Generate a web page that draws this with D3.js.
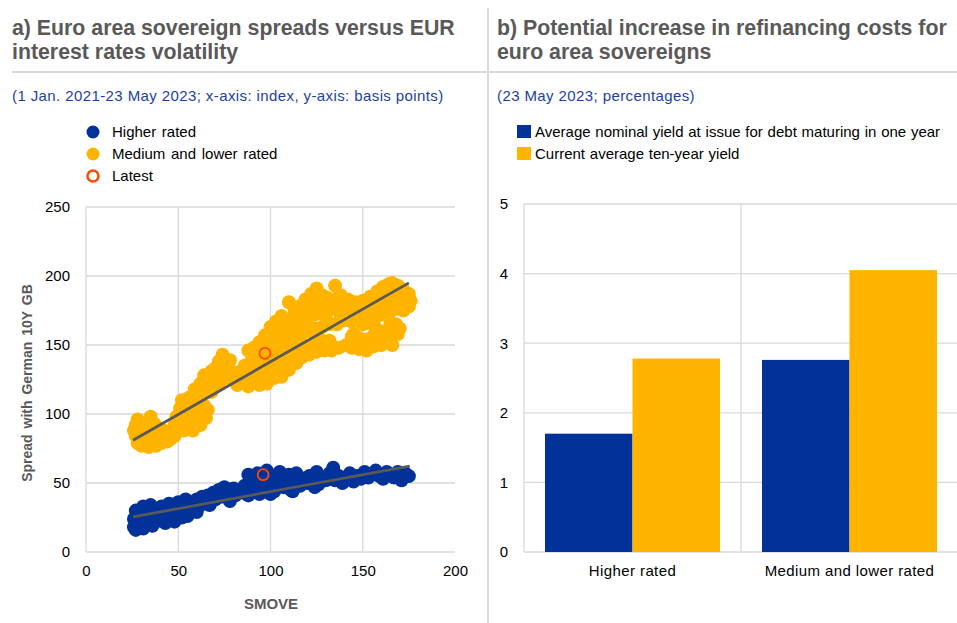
<title>Euro area sovereigns</title>
<script src="https://d3js.org/d3.v7.min.js"></script>
<style>
  body { margin: 0; background: #fff; font-family: "Liberation Sans", Arial, sans-serif; }
  svg text { font-family: "Liberation Sans", Arial, sans-serif; }
</style>
<body>
<script>
// ---- data ----
// panel a: [SMOVE index, spread in bp]
var higherRated = [
  [26,18],[26,24],[27,30],[28,21],[29,27],[30,19],[31,33],[32,24],[33,29],[34,20],[35,34],[36,26],
  [37,31],[38,22],[40,28],[41,33],[42,24],[44,30],[45,35],[46,27],[48,22],[48,32],[50,36],[51,28],
  [53,33],[54,38],[55,26],[57,34],[58,30],[60,38],[61,33],[63,40],[64,35],[66,41],[67,34],[69,43],
  [70,38],[72,45],[73,40],[75,47],[76,42],[78,44],[80,46],[81,41],[83,45],[85,43],[86,48],[88,56],
  [90,52],[91,45],[93,57],[94,42],[95,50],[97,53],[98,59],[99,46],[101,55],[102,44],[104,50],[105,58],
  [107,47],[108,53],[110,56],[111,45],[113,51],[114,57],[116,48],[118,53],[120,50],[121,55],[123,52],
  [125,58],[126,49],[128,54],[130,52],[132,57],[134,61],[135,52],[137,55],[139,50],[141,54],[143,57],
  [145,51],[147,55],[149,53],[151,58],[153,54],[155,56],[157,59],[159,55],[161,53],[163,58],[165,56],
  [167,54],[169,58],[171,52],[173,57],[175,55],
  [27,16],[31,17],[36,19],[43,21],[52,25],[60,29],[78,37],[88,41],[100,42],[112,44],[124,47]
];
var mediumLower = [
  [26,88],[27,84],[27,92],[28,79],[28,96],[29,86],[30,77],[30,82],[31,90],[32,78],[33,84],[33,94],
  [34,76],[35,88],[35,98],[36,80],[37,85],[37,93],[38,77],[39,90],[40,82],[40,86],[41,79],[42,88],
  [43,84],[44,80],[45,86],[46,82],[47,88],[48,84],
  [48,92],[49,98],[50,90],[51,104],[52,96],[52,110],[53,88],[54,100],[55,106],[56,93],[56,112],
  [57,100],[58,88],[59,104],[60,96],[61,108],[62,92],[63,100],[64,106],[65,97],[66,103],
  [59,118],[62,122],[64,128],[66,126],[68,131],[70,133],[72,138],[74,143],[76,136],[78,139],[80,130],
  [82,126],[84,131],[86,135],[87,123],[88,128],[89,132],[90,140],
  [62,114],[65,118],[68,116],[70,124],[72,122],[74,128],[76,126],[78,130],[82,121],[85,125],[88,120],[88,146],
  [90,124],[94,121],[98,122],[102,126],[106,127],[110,132],[114,137],[117,141],[121,143],[125,145],
  [129,146],[133,146],[137,148],[141,150],[144,148],[148,147],[152,146],[156,149],[160,150],[164,152],
  [166,150],[169,158],[170,162],
  [91,148],[94,152],[97,157],[100,163],[103,167],[106,171],[110,181],[113,176],[116,178],[119,183],
  [122,187],[125,191],[128,186],[131,184],[135,193],[138,186],[142,183],[146,181],[150,182],[154,185],
  [158,189],[161,192],[164,194],[166,195],[169,193],[172,190],[175,187],[176,182],[175,178],
  [92,132],[92,140],[96,128],[96,138],[96,147],[100,131],[100,140],[100,150],[100,157],
  [104,133],[104,143],[104,152],[104,160],[108,136],[108,146],[108,156],[108,165],
  [112,142],[112,152],[112,162],[112,170],[116,146],[116,156],[116,166],[116,173],
  [120,149],[120,160],[120,170],[120,178],[124,152],[124,162],[124,172],[124,182],
  [128,153],[128,163],[128,173],[128,180],[132,153],[132,165],[132,176],
  [136,165],[136,176],[136,184],[140,168],[140,177],[144,156],[144,167],[144,175],
  [148,155],[148,176],[152,154],[152,166],[152,176],[156,157],[156,168],[156,179],
  [160,160],[160,172],[160,183],[164,161],[164,172],[164,184],[168,165],[168,176],[168,186],
  [172,175],[172,182],
  [95,135],[98,140],[103,150],[105,142],[108,155],[110,160],[115,163],[118,168],
  [122,172],[127,175],[130,170],[135,176],[138,170],[143,168],[145,158],[148,172],
  [150,165],[155,175],[157,162],[162,178],[165,166],[170,183],[158,155],[118,150],[108,138]
];
var latest = [[96,56],[97,144]];
var trendHigher = [[25.5,25.4],[175.5,62.3]];
var trendMedium = [[25.5,81],[175,195]];
var scatterLegend = ["Higher rated", "Medium and lower rated", "Latest"];

// panel b: percentages
var barCategories = ["Higher rated", "Medium and lower rated"];
var barSeries = ["Average nominal yield at issue for debt maturing in one year", "Current average ten-year yield"];
var yieldAtIssue = [1.70, 2.76];
var tenYearYield = [2.78, 4.05];

var blue = "#003299", yellow = "#ffb400", orange = "#ff4b00",
    grid = "#d9d9d9", titleGrey = "#595959", subBlue = "#1c3f9e";

var svg = d3.select("body").append("svg").attr("width", 957).attr("height", 623);

// frame lines
svg.append("line").attr("x1", 12).attr("x2", 957).attr("y1", 72).attr("y2", 72)
   .attr("stroke", grid).attr("stroke-width", 2);
svg.append("line").attr("x1", 488).attr("x2", 488).attr("y1", 8).attr("y2", 623)
   .attr("stroke", grid).attr("stroke-width", 2);

function titleBlock(x, lines, sub) {
  lines.forEach(function (t, i) {
    svg.append("text").attr("x", x).attr("y", 35 + i * 24).text(t)
       .attr("font-size", 21.3).attr("font-weight", "bold").attr("fill", titleGrey);
  });
  svg.append("text").attr("x", x).attr("y", 101).text(sub)
     .attr("font-size", 15).attr("letter-spacing", 0.4).attr("fill", subBlue);
}
titleBlock(12, ["a) Euro area sovereign spreads versus EUR", "interest rates volatility"],
           "(1 Jan. 2021-23 May 2023; x-axis: index, y-axis: basis points)");
titleBlock(497, ["b) Potential increase in refinancing costs for", "euro area sovereigns"],
           "(23 May 2023; percentages)");

// ---- panel a: scatter ----
var x = d3.scaleLinear().domain([0, 200]).range([86, 455]);
var y = d3.scaleLinear().domain([0, 250]).range([552, 207]);

var ga = svg.append("g");
ga.selectAll(".hg").data(y.ticks(5)).enter().append("line")
  .attr("x1", 86).attr("x2", 455).attr("y1", d => y(d)).attr("y2", d => y(d))
  .attr("stroke", grid).attr("stroke-width", 1.3);
ga.selectAll(".vg").data([0, 50, 100, 150]).enter().append("line")
  .attr("y1", 207).attr("y2", 552).attr("x1", d => x(d)).attr("x2", d => x(d))
  .attr("stroke", grid).attr("stroke-width", 1.3);

var yAxis = ga.append("g").attr("transform", "translate(86,0)")
  .call(d3.axisLeft(y).ticks(5).tickSize(0).tickPadding(16));
var xAxis = ga.append("g").attr("transform", "translate(0,552)")
  .call(d3.axisBottom(x).ticks(4).tickSize(0).tickPadding(13));
[yAxis, xAxis].forEach(function (a) {
  a.select(".domain").remove();
  a.selectAll("text").attr("font-size", 15).attr("fill", "#000")
    .attr("font-family", "Liberation Sans, Arial, sans-serif");
});

ga.append("text").attr("transform", "translate(32,383) rotate(-90)")
  .attr("text-anchor", "middle").attr("font-size", 14).attr("font-weight", "bold")
  .attr("fill", titleGrey).attr("word-spacing", 2).text("Spread with German 10Y GB");
ga.append("text").attr("x", 271).attr("y", 609).attr("text-anchor", "middle")
  .attr("font-size", 15).attr("font-weight", "bold").attr("fill", titleGrey).text("SMOVE");

ga.selectAll(".pm").data(mediumLower).enter().append("circle")
  .attr("cx", d => x(d[0])).attr("cy", d => y(d[1])).attr("r", 7).attr("fill", yellow);
ga.selectAll(".ph").data(higherRated).enter().append("circle")
  .attr("cx", d => x(d[0])).attr("cy", d => y(d[1])).attr("r", 7).attr("fill", blue);

var line = d3.line().x(d => x(d[0])).y(d => y(d[1]));
[trendMedium, trendHigher].forEach(function (t) {
  ga.append("path").attr("d", line(t)).attr("stroke", "#595959").attr("stroke-width", 2.8)
    .attr("fill", "none");
});

ga.selectAll(".pl").data(latest).enter().append("circle")
  .attr("cx", d => x(d[0])).attr("cy", d => y(d[1])).attr("r", 5.5)
  .attr("fill", "none").attr("stroke", orange).attr("stroke-width", 1.8);

// legend a
var lg = ga.selectAll(".lg").data(scatterLegend).enter().append("g")
  .attr("transform", (d, i) => "translate(93," + (132 + i * 22) + ")");
lg.append("circle").attr("r", d => d === "Latest" ? 5.5 : 6.5)
  .attr("fill", (d, i) => i === 0 ? blue : i === 1 ? yellow : "none")
  .attr("stroke", (d, i) => i === 2 ? orange : "none").attr("stroke-width", 2.5);
lg.append("text").attr("x", 19).attr("y", 5).attr("font-size", 15).attr("fill", "#000")
  .attr("word-spacing", 1.5).text(d => d);

// ---- panel b: grouped bars ----
var x0 = d3.scaleBand().domain(barCategories).range([524, 958]).paddingInner(0).paddingOuter(0);
var x1 = d3.scaleBand().domain([0, 1]).range([0, x0.bandwidth()]).paddingOuter(0.24).paddingInner(0);
var yb = d3.scaleLinear().domain([0, 5]).range([552, 204]);

var gb = svg.append("g");
gb.selectAll(".hg").data(yb.ticks(5)).enter().append("line")
  .attr("x1", 524).attr("x2", 957).attr("y1", d => yb(d)).attr("y2", d => yb(d))
  .attr("stroke", grid).attr("stroke-width", 1.3);
gb.selectAll(".vg").data([524, x0(barCategories[1])]).enter().append("line")
  .attr("x1", d => d).attr("x2", d => d).attr("y1", 204).attr("y2", 552)
  .attr("stroke", grid).attr("stroke-width", 1.3);

var yAxisB = gb.append("g").attr("transform", "translate(524,0)")
  .call(d3.axisLeft(yb).ticks(5).tickSize(0).tickPadding(16));
var xAxisB = gb.append("g").attr("transform", "translate(0,552)")
  .call(d3.axisBottom(x0).tickSize(0).tickPadding(13));
[yAxisB, xAxisB].forEach(function (a) {
  a.select(".domain").remove();
  a.selectAll("text").attr("font-size", 15).attr("fill", "#000")
    .attr("font-family", "Liberation Sans, Arial, sans-serif");
});
xAxisB.selectAll("text").attr("letter-spacing", 0.4);

var barData = barCategories.map((c, i) => ({ cat: c, vals: [yieldAtIssue[i], tenYearYield[i]] }));
var grp = gb.selectAll(".grp").data(barData).enter().append("g")
  .attr("transform", d => "translate(" + x0(d.cat) + ",0)");
grp.selectAll("rect").data(d => d.vals).enter().append("rect")
  .attr("x", (d, i) => x1(i)).attr("width", x1.bandwidth())
  .attr("y", d => yb(d)).attr("height", d => yb(0) - yb(d))
  .attr("fill", (d, i) => i === 0 ? blue : yellow);

// legend b
var lb = gb.selectAll(".lb").data(barSeries).enter().append("g")
  .attr("transform", (d, i) => "translate(517," + (125 + i * 22) + ")");
lb.append("rect").attr("width", 14).attr("height", 13).attr("fill", (d, i) => i === 0 ? blue : yellow);
lb.append("text").attr("x", 18).attr("y", 12).attr("font-size", 15).attr("fill", "#000")
  .attr("word-spacing", 0.6).text(d => d);
</script>
</body>
